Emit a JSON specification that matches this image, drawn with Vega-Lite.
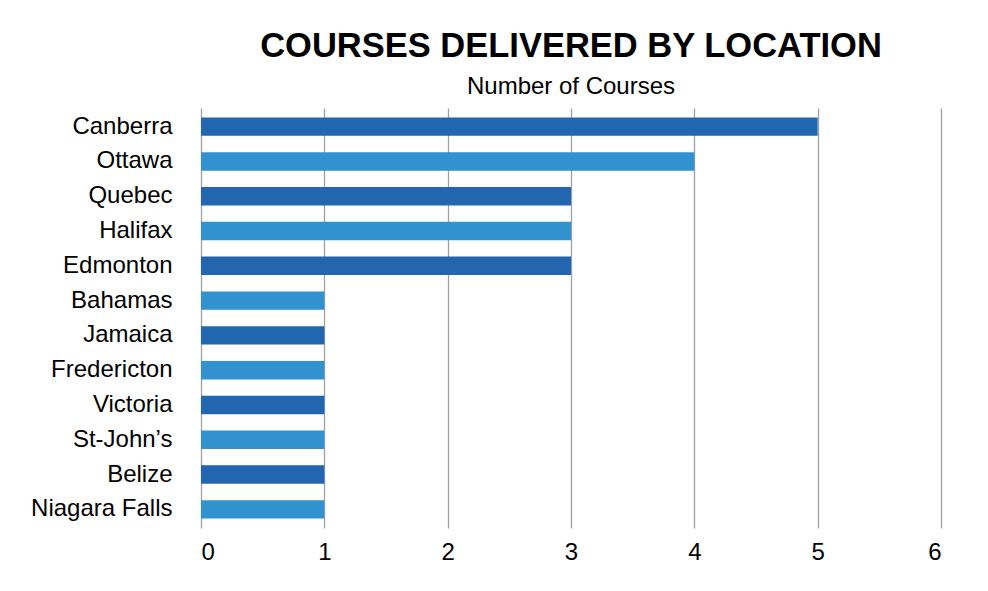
{
  "$schema": "https://vega.github.io/schema/vega-lite/v6.json",
  "width": 740,
  "height": 420,
  "autosize": {"type": "none"},
  "padding": {"left": 201, "top": 108, "right": 47, "bottom": 63},
  "background": "white",
  "title": {
    "text": "COURSES DELIVERED BY LOCATION",
    "subtitle": "Number of Courses",
    "anchor": "middle",
    "frame": "group",
    "font": "Liberation Sans",
    "fontSize": 34.5,
    "fontWeight": "bold",
    "color": "black",
    "subtitleFont": "Liberation Sans",
    "subtitleFontSize": 24,
    "subtitleColor": "black",
    "subtitlePadding": 11,
    "offset": 8
  },
  "data": {
    "values": [
      {"location": "Canberra", "courses": 5},
      {"location": "Ottawa", "courses": 4},
      {"location": "Quebec", "courses": 3},
      {"location": "Halifax", "courses": 3},
      {"location": "Edmonton", "courses": 3},
      {"location": "Bahamas", "courses": 1},
      {"location": "Jamaica", "courses": 1},
      {"location": "Fredericton", "courses": 1},
      {"location": "Victoria", "courses": 1},
      {"location": "St-John’s", "courses": 1},
      {"location": "Belize", "courses": 1},
      {"location": "Niagara Falls", "courses": 1}
    ]
  },
  "mark": {"type": "bar"},
  "encoding": {
    "y": {
      "field": "location",
      "type": "nominal",
      "sort": null,
      "scale": {"paddingInner": 0.47, "paddingOuter": 0.27},
      "axis": {
        "title": null,
        "ticks": false,
        "domain": false,
        "labelFont": "Liberation Sans",
        "labelFontSize": 24,
        "labelColor": "black",
        "labelPadding": 29
      }
    },
    "x": {
      "field": "courses",
      "type": "quantitative",
      "scale": {"domain": [0, 6], "nice": false},
      "axis": {
        "title": null,
        "values": [0, 1, 2, 3, 4, 5, 6],
        "labelOverlap": false,
        "ticks": false,
        "domain": false,
        "grid": true,
        "gridColor": "#a0a0a0",
        "gridWidth": 1.3,
        "labelFont": "Liberation Sans",
        "labelFontSize": 24,
        "labelColor": "black",
        "labelPadding": 12
      }
    },
    "color": {
      "field": "location",
      "type": "nominal",
      "legend": null,
      "scale": {
        "domain": ["Canberra", "Ottawa", "Quebec", "Halifax", "Edmonton", "Bahamas", "Jamaica", "Fredericton", "Victoria", "St-John’s", "Belize", "Niagara Falls"],
        "range": ["#2166ae", "#3292cf", "#2166ae", "#3292cf", "#2166ae", "#3292cf", "#2166ae", "#3292cf", "#2166ae", "#3292cf", "#2166ae", "#3292cf"]
      }
    }
  },
  "config": {
    "view": {"stroke": null}
  }
}
